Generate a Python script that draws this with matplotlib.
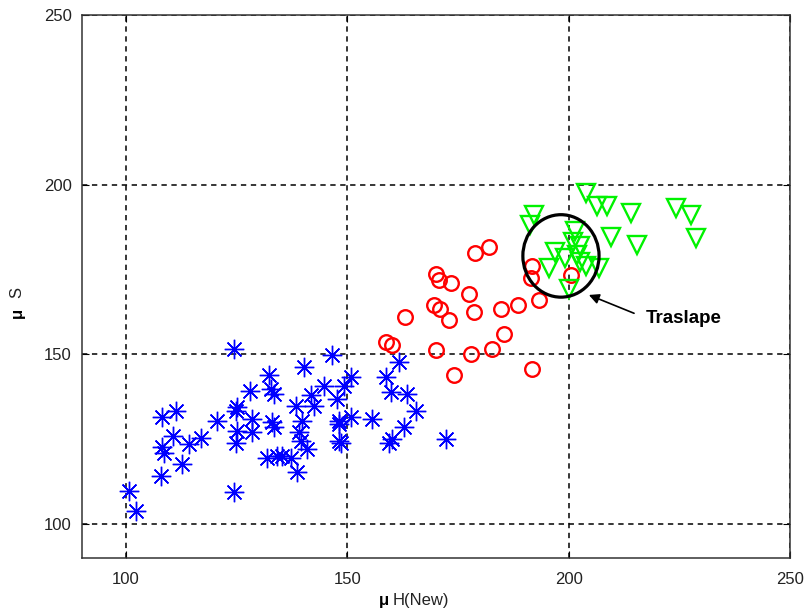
import matplotlib
matplotlib.use("Agg")
import matplotlib.pyplot as plt
from matplotlib.patches import Ellipse

plt.rcParams['font.family'] = ['Liberation Sans', 'DejaVu Sans']

blue_x = [100.7, 102.2, 107.8, 108.2, 108.6, 108.2, 111.2, 110.5, 112.7, 114.2,
          116.9, 120.6, 124.4, 146.6, 140.2, 132.3, 128.1, 132.7, 133.4, 125.1,
          124.8, 128.5, 133.0, 133.4, 125.1, 128.5, 124.8, 131.9, 134.2, 135.3,
          137.2, 138.7, 124.4, 138.3, 139.8, 139.0, 139.4, 140.9, 141.7, 142.4,
          144.7, 147.7, 148.1, 148.1, 161.6, 150.7, 158.6, 149.2, 159.8, 163.5,
          165.4, 155.6, 150.7, 148.1, 162.8, 160.1, 159.4, 148.5, 172.2]
blue_y = [109.8, 103.8, 114.2, 122.6, 121.0, 131.4, 133.4, 126.0, 117.7, 123.6,
          125.5, 130.5, 151.7, 149.7, 146.2, 143.8, 139.3, 139.8, 138.4, 134.4,
          133.4, 131.0, 130.0, 128.5, 127.5, 127.0, 124.0, 119.6, 120.1, 120.1,
          119.6, 115.2, 109.5, 134.9, 130.5, 127.0, 124.6, 122.1, 137.9, 134.9,
          140.8, 136.9, 130.5, 124.6, 147.7, 143.3, 143.3, 140.8, 138.8, 138.4,
          133.4, 131.0, 131.4, 129.5, 128.5, 125.1, 124.0, 124.0, 125.1]

red_x = [181.9, 178.9, 169.9, 170.7, 173.3, 177.4, 169.5, 171.0, 172.9, 178.6,
         163.1, 184.6, 188.4, 193.2, 191.7, 191.4, 185.3, 158.6, 160.1, 169.9,
         177.8, 182.7, 174.0, 191.7, 200.4]
red_y = [181.7, 179.8, 173.8, 171.9, 170.9, 167.9, 164.5, 163.5, 160.1, 162.5,
         161.0, 163.5, 164.5, 166.0, 175.9, 172.4, 156.1, 153.6, 152.7, 151.2,
         150.2, 151.7, 143.8, 145.8, 173.4]

green_x = [203.8, 206.4, 208.7, 214.0, 224.1, 227.5, 192.1, 191.3, 228.6, 209.4,
           215.4, 201.3, 201.0, 196.9, 202.6, 199.2, 201.9, 202.6, 195.5, 203.8,
           206.8, 200.0]
green_y = [197.5, 193.6, 193.6, 191.6, 193.1, 191.1, 191.1, 188.2, 184.2, 184.7,
           182.2, 186.2, 183.2, 180.3, 181.8, 178.3, 179.3, 177.3, 175.3, 175.9,
           175.3, 169.4]

x_ticks = [100, 150, 200, 250]
y_ticks = [100, 150, 200, 250]

fig = plt.figure(figsize=(8.09, 6.15), dpi=100)
ax = fig.add_axes([0.101, 0.0927, 0.876, 0.883])

ax.plot(blue_x, blue_y, linestyle='none', marker=(8, 2, 0), markersize=14,
        markeredgewidth=1.0, color=(0, 0, 1))
ax.plot(red_x, red_y, linestyle='none', marker='o', markersize=10.5,
        markeredgewidth=1.7, markerfacecolor='none', markeredgecolor=(1, 0, 0))
ax.plot(green_x, green_y, linestyle='none', marker='v', markersize=12.5,
        markeredgewidth=1.7, markerfacecolor='none', markeredgecolor=(0, 0.95, 0))

ax.add_patch(Ellipse((198.2, 179.0), 17.2, 24.3, fill=False, edgecolor='black',
                     linewidth=2.3, zorder=5))
ax.annotate('', xy=(204.5, 167.5), xytext=(214.7, 162.1),
            arrowprops=dict(arrowstyle='-|>', color='black', lw=1.2,
                            mutation_scale=15, shrinkA=0, shrinkB=0))
ax.text(217.4, 160.7, 'Traslape', fontsize=13.5, fontweight='bold',
        ha='left', va='center')

ax.set_xlim(90, 250)
ax.set_ylim(90, 250)
ax.set_xticks(x_ticks)
ax.set_yticks(y_ticks)
ax.tick_params(direction='in', length=5, width=0.8, labelsize=12,
               labelcolor='#222222', top=True, right=True)
ax.tick_params(axis='x', pad=10)
ax.tick_params(axis='y', pad=7)
ax.grid(True, color='black', linestyle=(0, (3.5, 3)), linewidth=1.1)
for s in ax.spines.values():
    s.set_linewidth(1.1)
    s.set_color('#333333')

fig.text(389 / 809, 1 - 601 / 615, 'μ', fontsize=12, fontweight='bold',
         ha='right', va='center')
fig.text(393 / 809, 1 - 601 / 615, 'H(New)', fontsize=12,
         ha='left', va='center', color='#222222')
fig.text(17 / 809, 1 - 313 / 615, 'μ', fontsize=12, fontweight='bold',
         rotation=90, ha='center', va='center')
fig.text(17 / 809, 1 - 292 / 615, 'S', fontsize=12,
         rotation=90, ha='center', va='center', color='#222222')

fig.savefig('out.png', dpi=100)
